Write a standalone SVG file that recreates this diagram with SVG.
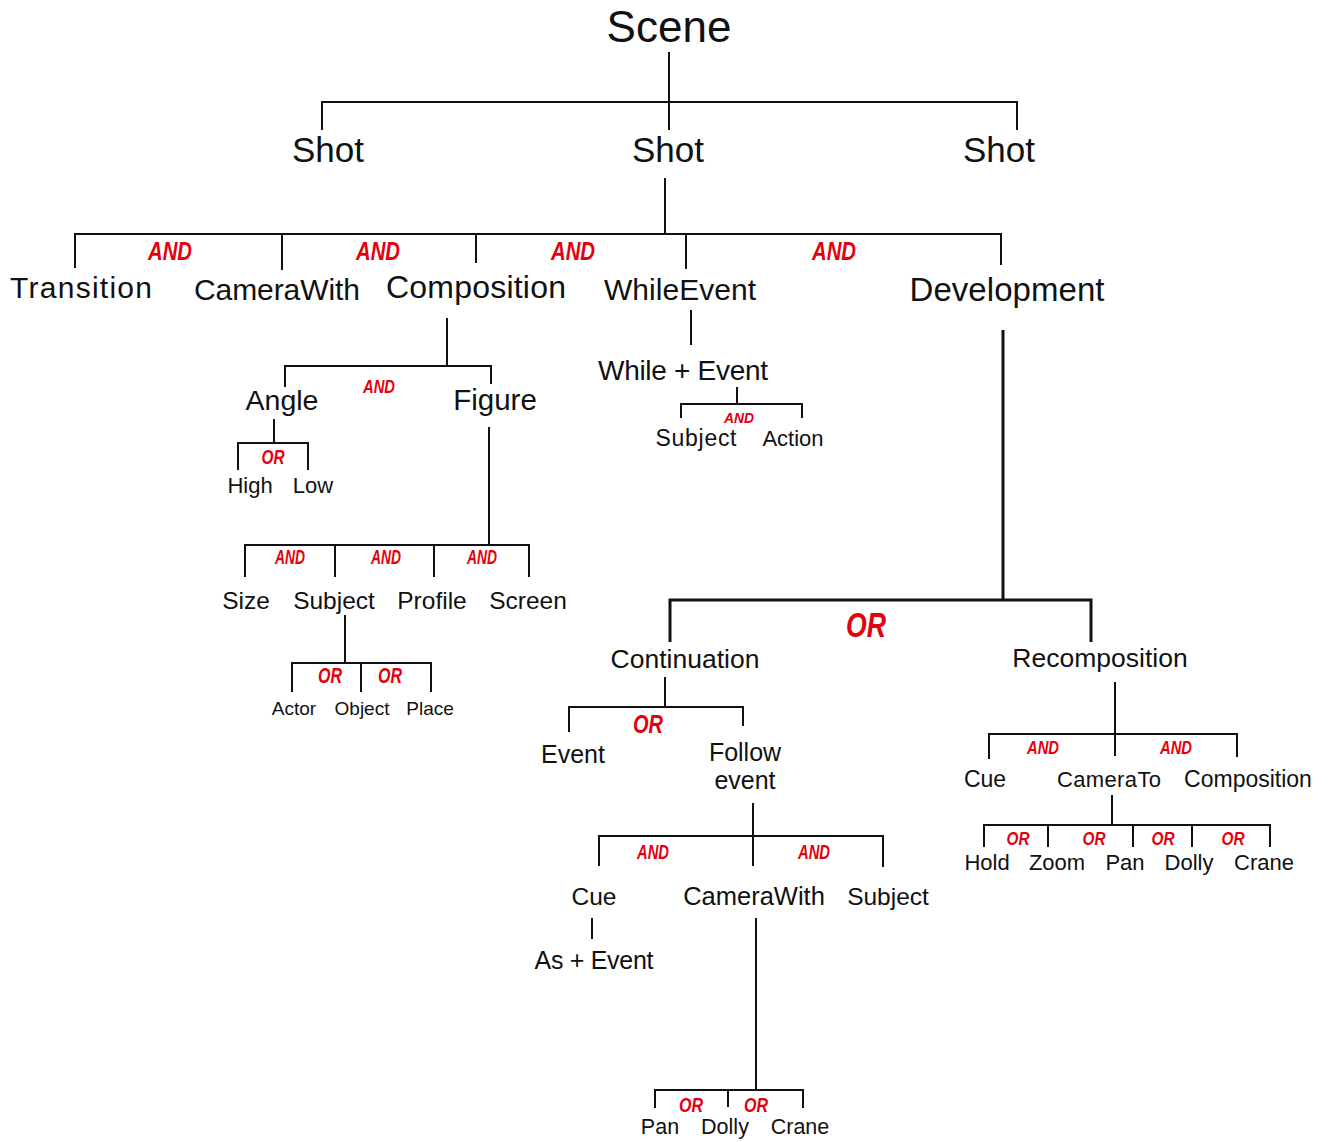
<svg xmlns="http://www.w3.org/2000/svg" width="1330" height="1142" viewBox="0 0 1330 1142">
<style>
.n{font-family:"Liberation Sans",Arial,sans-serif;fill:#111;text-anchor:middle}
.op{font-family:"Liberation Sans",Arial,sans-serif;font-weight:bold;font-style:italic;fill:#e3000f;text-anchor:middle}
.ln{stroke:#111;stroke-width:2;fill:none}
.th{stroke:#111;stroke-width:3;fill:none}
</style>
<rect width="1330" height="1142" fill="#fff"/>
<g id="connectors">
<path class="ln" d="M669 52V130M322 130V102H1017V130"/>
<path class="ln" d="M665 178V234M75 268V234H1001V265M282 270V234M476 263V234M686 269V234"/>
<path class="ln" d="M447 318V366M285 387V366H491V384"/>
<path class="ln" d="M274 419V443M238 470V443H308V470"/>
<path class="ln" d="M489 427V545M245 577V545H529V577M335 577V545M434 577V545"/>
<path class="ln" d="M345 615V663M292 692V663H431V692M361 692V663"/>
<path class="ln" d="M691 310V345"/>
<path class="ln" d="M737 387V404M681 418V404H802V418"/>
<path class="th" d="M1003 330V600M670 642V600H1091V642"/>
<path class="ln" d="M665 677V707M569 732V707H743V726"/>
<path class="ln" d="M753 803V866M599 866V836H883V867"/>
<path class="ln" d="M592 918V939"/>
<path class="ln" d="M756 918V1090M655 1108V1090H803V1108M728 1107V1090"/>
<path class="ln" d="M1115 682V756M989 759V734H1237V757"/>
<path class="ln" d="M1112 795V825M984 847V825H1270V847M1048 847V825M1133 847V825M1192 847V825"/>
</g>
<g id="operators">
<text class="op" x="170" y="260" font-size="26.5" textLength="44" lengthAdjust="spacingAndGlyphs">AND</text>
<text class="op" x="378" y="260" font-size="26.5" textLength="44" lengthAdjust="spacingAndGlyphs">AND</text>
<text class="op" x="573" y="260" font-size="26.5" textLength="44" lengthAdjust="spacingAndGlyphs">AND</text>
<text class="op" x="834" y="260" font-size="26.5" textLength="44" lengthAdjust="spacingAndGlyphs">AND</text>
<text class="op" x="379" y="393" font-size="18.5" textLength="32" lengthAdjust="spacingAndGlyphs">AND</text>
<text class="op" x="273" y="464" font-size="19.5" textLength="23" lengthAdjust="spacingAndGlyphs">OR</text>
<text class="op" x="290" y="564" font-size="19.5" textLength="30" lengthAdjust="spacingAndGlyphs">AND</text>
<text class="op" x="386" y="564" font-size="19.5" textLength="30" lengthAdjust="spacingAndGlyphs">AND</text>
<text class="op" x="482" y="564" font-size="19.5" textLength="30" lengthAdjust="spacingAndGlyphs">AND</text>
<text class="op" x="330" y="683" font-size="22" textLength="24" lengthAdjust="spacingAndGlyphs">OR</text>
<text class="op" x="390" y="683" font-size="22" textLength="24" lengthAdjust="spacingAndGlyphs">OR</text>
<text class="op" x="739" y="423" font-size="15.5" textLength="30" lengthAdjust="spacingAndGlyphs">AND</text>
<text class="op" x="866" y="637" font-size="35" textLength="40" lengthAdjust="spacingAndGlyphs">OR</text>
<text class="op" x="648" y="733" font-size="25" textLength="30" lengthAdjust="spacingAndGlyphs">OR</text>
<text class="op" x="653" y="859" font-size="19.5" textLength="32" lengthAdjust="spacingAndGlyphs">AND</text>
<text class="op" x="814" y="859" font-size="19.5" textLength="32" lengthAdjust="spacingAndGlyphs">AND</text>
<text class="op" x="691" y="1112" font-size="21" textLength="24" lengthAdjust="spacingAndGlyphs">OR</text>
<text class="op" x="756" y="1112" font-size="21" textLength="24" lengthAdjust="spacingAndGlyphs">OR</text>
<text class="op" x="1043" y="754" font-size="18.5" textLength="32" lengthAdjust="spacingAndGlyphs">AND</text>
<text class="op" x="1176" y="754" font-size="18.5" textLength="32" lengthAdjust="spacingAndGlyphs">AND</text>
<text class="op" x="1018" y="845" font-size="18.5" textLength="23" lengthAdjust="spacingAndGlyphs">OR</text>
<text class="op" x="1094" y="845" font-size="18.5" textLength="23" lengthAdjust="spacingAndGlyphs">OR</text>
<text class="op" x="1163" y="845" font-size="18.5" textLength="23" lengthAdjust="spacingAndGlyphs">OR</text>
<text class="op" x="1233" y="845" font-size="18.5" textLength="23" lengthAdjust="spacingAndGlyphs">OR</text>
</g>
<g id="scene"><text class="n" x="669" y="42" font-size="44">Scene</text></g>
<g id="shot1"><text class="n" x="328" y="162" font-size="35">Shot</text></g>
<g id="shot2"><text class="n" x="668" y="162" font-size="35">Shot</text></g>
<g id="shot3"><text class="n" x="999" y="162" font-size="35">Shot</text></g>
<g id="transition"><text class="n" x="81" y="298" font-size="30" textLength="142">Transition</text></g>
<g id="camerawith1"><text class="n" x="277" y="300" font-size="30" textLength="166">CameraWith</text></g>
<g id="composition1"><text class="n" x="476" y="298" font-size="32" textLength="180">Composition</text></g>
<g id="whileevent"><text class="n" x="680" y="300" font-size="30" textLength="152">WhileEvent</text></g>
<g id="development"><text class="n" x="1007" y="301" font-size="33" textLength="195">Development</text></g>
<g id="angle"><text class="n" x="282" y="410" font-size="28.5">Angle</text></g>
<g id="figure"><text class="n" x="495" y="410" font-size="29.5">Figure</text></g>
<g id="high"><text class="n" x="250" y="493" font-size="22">High</text></g>
<g id="low"><text class="n" x="313" y="493" font-size="22">Low</text></g>
<g id="size"><text class="n" x="246" y="609" font-size="24.5">Size</text></g>
<g id="subject1"><text class="n" x="334" y="609" font-size="24.5">Subject</text></g>
<g id="profile"><text class="n" x="432" y="609" font-size="24.5">Profile</text></g>
<g id="screen"><text class="n" x="528" y="609" font-size="24.5">Screen</text></g>
<g id="actor"><text class="n" x="294" y="715" font-size="19">Actor</text></g>
<g id="object"><text class="n" x="362" y="715" font-size="19">Object</text></g>
<g id="place"><text class="n" x="430" y="715" font-size="19">Place</text></g>
<g id="whileplusevent"><text class="n" x="683" y="380" font-size="28" textLength="170">While + Event</text></g>
<g id="subject2"><text class="n" x="696" y="446" font-size="23" textLength="81">Subject</text></g>
<g id="action"><text class="n" x="793" y="446" font-size="22">Action</text></g>
<g id="continuation"><text class="n" x="685" y="668" font-size="26.5">Continuation</text></g>
<g id="recomposition"><text class="n" x="1100" y="667" font-size="26.5">Recomposition</text></g>
<g id="event"><text class="n" x="573" y="763" font-size="25">Event</text></g>
<g id="followevent"><text class="n" x="745" y="761" font-size="25">Follow</text><text class="n" x="745" y="789" font-size="25">event</text></g>
<g id="cue1"><text class="n" x="594" y="905" font-size="24.5">Cue</text></g>
<g id="camerawith2"><text class="n" x="754" y="905" font-size="25.5">CameraWith</text></g>
<g id="subject3"><text class="n" x="888" y="905" font-size="24.5">Subject</text></g>
<g id="asplusevent"><text class="n" x="594" y="969" font-size="25" textLength="119">As + Event</text></g>
<g id="pan1"><text class="n" x="660" y="1134" font-size="21.5">Pan</text></g>
<g id="dolly1"><text class="n" x="725" y="1134" font-size="21.5">Dolly</text></g>
<g id="crane1"><text class="n" x="800" y="1134" font-size="21.5">Crane</text></g>
<g id="cue2"><text class="n" x="985" y="787" font-size="23">Cue</text></g>
<g id="camerato"><text class="n" x="1109" y="787" font-size="22" textLength="104">CameraTo</text></g>
<g id="composition2"><text class="n" x="1248" y="787" font-size="23">Composition</text></g>
<g id="hold"><text class="n" x="987" y="870" font-size="22">Hold</text></g>
<g id="zoom"><text class="n" x="1057" y="870" font-size="22">Zoom</text></g>
<g id="pan2"><text class="n" x="1125" y="870" font-size="22">Pan</text></g>
<g id="dolly2"><text class="n" x="1189" y="870" font-size="22">Dolly</text></g>
<g id="crane2"><text class="n" x="1264" y="870" font-size="22">Crane</text></g>
</svg>
